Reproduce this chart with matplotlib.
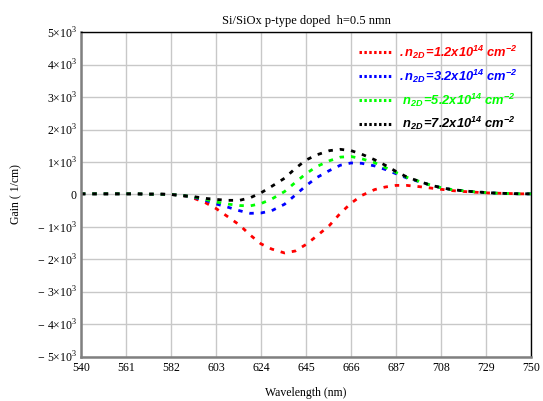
import numpy as np
import matplotlib
matplotlib.use("Agg")
import matplotlib.pyplot as plt
from matplotlib.lines import Line2D

plt.rcParams['mathtext.fontset'] = 'custom'
plt.rcParams['mathtext.rm'] = 'Liberation Serif'
plt.rcParams['mathtext.it'] = 'Liberation Sans:italic:bold'
plt.rcParams['mathtext.bf'] = 'Liberation Sans:italic:bold'

# wavelength samples (nm)
wl = [540, 545, 550, 556, 561, 566, 571, 577, 582, 587, 592, 598, 603, 608,
      614, 619, 624, 629, 635, 640, 645, 650, 656, 661, 666, 671, 677, 682,
      687, 692, 698, 703, 708, 713, 719, 724, 729, 734, 740, 745, 750]

# gain in units of 1e3 1/cm
head = [0.02, 0.02, 0.02, 0.02, 0.02, 0.02, 0.01, 0.01, 0.0, -0.03]
tail_r = [0.16, 0.12, 0.09, 0.07, 0.05, 0.04, 0.03, 0.02, 0.02]
tail = [0.21, 0.15, 0.11, 0.08, 0.06, 0.04, 0.03, 0.02, 0.02]

g_12 = head + [-0.1, -0.25, -0.43, -0.66, -0.94, -1.25, -1.52, -1.68, -1.8,
               -1.74, -1.54, -1.28, -0.95, -0.58, -0.27, -0.03, 0.15, 0.23,
               0.28, 0.28, 0.24, 0.2] + tail_r
g_32 = head + [-0.08, -0.18, -0.29, -0.38, -0.5, -0.58, -0.57, -0.5, -0.3,
               -0.02, 0.27, 0.52, 0.74, 0.9, 0.97, 0.96, 0.88, 0.77,
               0.64, 0.51, 0.39, 0.29] + tail
g_52 = head + [-0.07, -0.15, -0.23, -0.29, -0.34, -0.35, -0.28, -0.14, 0.09,
               0.37, 0.64, 0.86, 1.04, 1.15, 1.17, 1.1, 0.98, 0.83,
               0.68, 0.53, 0.4, 0.29] + tail
g_72 = head + [-0.06, -0.12, -0.15, -0.18, -0.18, -0.1, 0.05, 0.25, 0.5,
               0.8, 1.06, 1.22, 1.35, 1.39, 1.35, 1.24, 1.07, 0.9,
               0.71, 0.54, 0.4, 0.29] + tail

series = [g_12, g_32, g_52, g_72]
colors = ['#ff0000', '#0000ff', '#00ff00', '#000000']
labels = [r'$\mathbf{.n_{2D}\!=\!1.2x10^{14}\ cm^{-2}}$',
          r'$\mathbf{.n_{2D}\!=\!3.2x10^{14}\ cm^{-2}}$',
          r'$\mathbf{\ n_{2D}\!=\!5.2x10^{14}\ cm^{-2}}$',
          r'$\mathbf{\ n_{2D}\!=\!7.2x10^{14}\ cm^{-2}}$']

xticks = [540, 561, 582, 603, 624, 645, 666, 687, 708, 729, 750]
yticks = [-5, -4, -3, -2, -1, 0, 1, 2, 3, 4, 5]

fig = plt.figure(figsize=(5.43, 4.01), dpi=100)
ax = fig.add_axes([0.149, 0.110, 0.829, 0.810])

x = np.array(wl)
for g, c in zip(series, colors):
    ax.plot(x, np.array(g) * 1000, color=c, lw=2.0, linestyle=(0, (1.6, 2.5)))

ax.set_xlim(540, 750)
ax.set_ylim(-5000, 5000)
ax.set_xticks(xticks)
ax.set_yticks([v * 1000 for v in yticks])

def ylab(v):
    if v == 0:
        return '0'
    if v < 0:
        return r'$-\ %d{\times}10^{3}$' % (-v)
    return r'$%d{\times}10^{3}$' % v

ax.set_yticklabels([ylab(v) for v in yticks])
ax.set_xticklabels([str(v) for v in xticks])
for lab in ax.get_xticklabels() + ax.get_yticklabels():
    lab.set_fontfamily('Liberation Serif')
    lab.set_fontsize(8.5)

ax.tick_params(length=0)
ax.tick_params(axis='x', pad=4)
ax.tick_params(axis='y', pad=3)
ax.grid(True, color='#c8c8c8', lw=1.0)
ax.set_axisbelow(True)

ax.spines['left'].set_color('#808080')
ax.spines['left'].set_linewidth(1.8)
ax.spines['bottom'].set_color('#808080')
ax.spines['bottom'].set_linewidth(1.8)
ax.spines['top'].set_color('black')
ax.spines['right'].set_color('black')
ax.spines['top'].set_linewidth(1.0)
ax.spines['right'].set_linewidth(1.0)

ax.set_title('Si/SiOx p-type doped  h=0.5 nmn', fontfamily='Liberation Serif',
             fontsize=9, pad=6)
ax.set_xlabel('Wavelength (nm)', fontfamily='Liberation Serif', fontsize=8.5,
              labelpad=9)
ax.set_ylabel('Gain ( 1/cm)', fontfamily='Liberation Serif', fontsize=8.5,
              labelpad=10)

handles = [Line2D([], [], color=c, lw=2.2, linestyle=(0, (0.8, 0.8))) for c in colors]
leg = ax.legend(handles, labels, loc='upper right', frameon=False, fontsize=9.3,
                handlelength=2.7, handletextpad=0.4, labelspacing=0.5,
                labelcolor='linecolor', bbox_to_anchor=(0.995, 1.0))

fig.savefig('out.png', dpi=100)
